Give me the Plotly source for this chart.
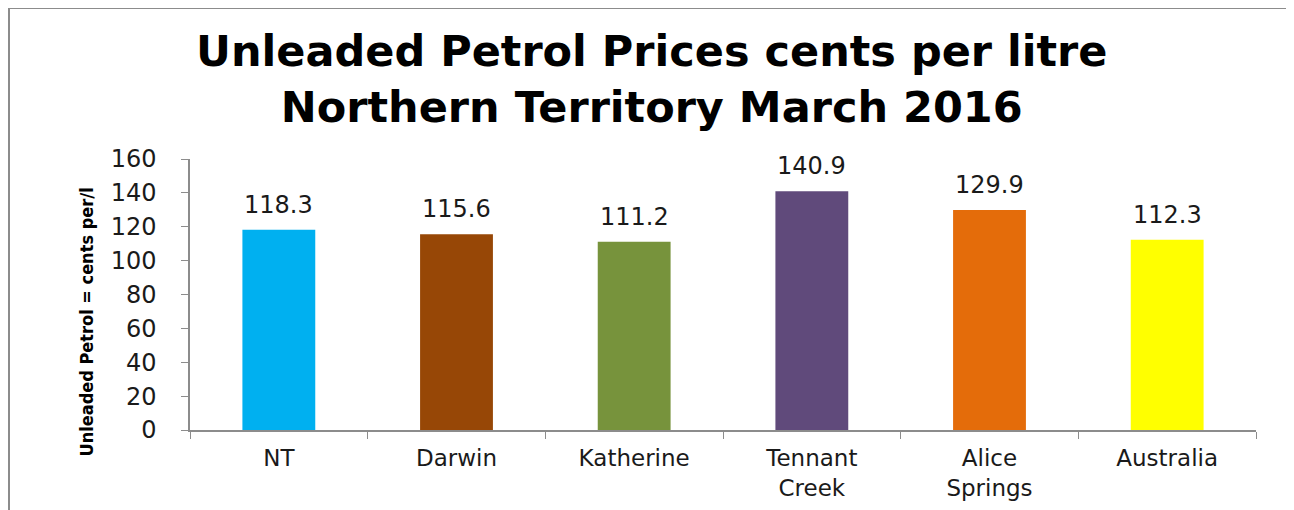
import plotly.graph_objects as go

categories = ["NT", "Darwin", "Katherine", "Tennant<br>Creek", "Alice<br>Springs", "Australia"]
prices = [118.3, 115.6, 111.2, 140.9, 129.9, 112.3]
bar_colors = ["#00B0F0", "#974706", "#77933C", "#604A7B", "#E46C0A", "#FFFF00"]
y_ticks = [0, 20, 40, 60, 80, 100, 120, 140, 160]

# the page puts the plot 8px in from the window corner
OFF = 8
W, H = 1294, 510
L, T = 190 - OFF, 159 - OFF
R, B = W - (1256 - OFF), H - (430 - OFF)
pw, ph = W - L - R, H - T - B

def px_to_paper(x, y):
    # window pixels -> paper coords
    return (x - OFF - L) / pw, (H - B - (y - OFF)) / ph

fig = go.Figure()
fig.add_trace(go.Bar(
    x=categories, y=prices,
    marker=dict(color=bar_colors, line=dict(width=0)),
    hoverinfo="x+y",
))

for cat, val in zip(categories, prices):
    fig.add_annotation(x=cat, y=val, text=f"{val:.1f}", showarrow=False,
                       yanchor="bottom", yshift=9,
                       font=dict(family="DejaVu Sans", size=24, color="#1a1a1a"))

# outer chart frame
x0, y0 = px_to_paper(OFF + 1, 530)
x1, y1 = px_to_paper(1289, OFF)
fig.add_shape(type="rect", xref="paper", yref="paper", x0=x0, y0=y0, x1=x1, y1=y1,
              line=dict(color="#8c8c8c", width=2), layer="below")

# title
tx, ty = px_to_paper(651, 79)
fig.add_annotation(xref="paper", yref="paper", x=tx, y=ty, yanchor="middle",
                   text="<b>Unleaded Petrol Prices cents per litre<br>Northern Territory March 2016</b>",
                   showarrow=False,
                   font=dict(family="DejaVu Sans", size=43, color="black"))

# y axis title
tx, ty = px_to_paper(73, 322)
fig.add_annotation(xref="paper", yref="paper", x=tx, y=ty, textangle=-90,
                   text="<b>Unleaded Petrol = cents per/l</b>", showarrow=False,
                   font=dict(family="Liberation Sans Narrow, DejaVu Sans Condensed", size=18, color="black"))

fig.update_layout(
    width=W, height=H,
    margin=dict(l=L, r=R, t=T, b=B),
    paper_bgcolor="white", plot_bgcolor="white",
    bargap=0.59,
    showlegend=False,
    font=dict(family="DejaVu Sans", size=22, color="#1a1a1a"),
)
fig.update_xaxes(
    showline=True, linecolor="#8c8c8c", linewidth=1.5,
    ticks="outside", ticklen=7, tickcolor="#8c8c8c", tickson="boundaries",
    ticklabelstandoff=7, tickfont=dict(size=23, color="#1a1a1a"),
    showgrid=False, fixedrange=True,
)
fig.update_yaxes(
    range=[0, 160], tickvals=y_ticks,
    showline=True, linecolor="#8c8c8c", linewidth=1.5,
    ticks="outside", ticklen=7, tickcolor="#8c8c8c",
    ticklabelstandoff=20, tickfont=dict(size=24, color="#1a1a1a"),
    showgrid=False, zeroline=False, fixedrange=True,
)

fig.write_html("out.html")
